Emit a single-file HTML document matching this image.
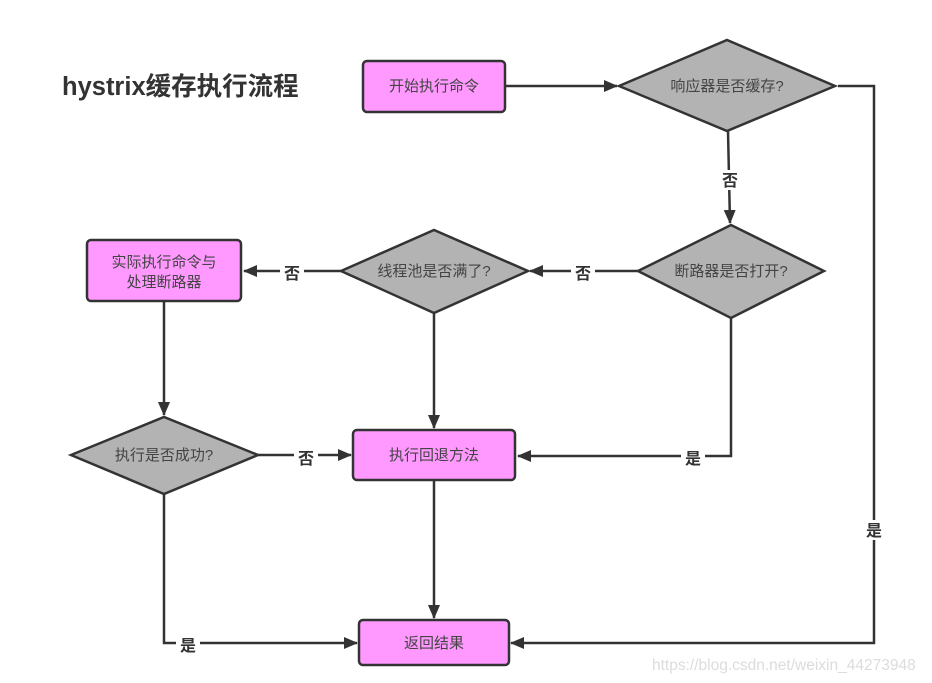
<!DOCTYPE html>
<html><head><meta charset="utf-8"><style>
html,body{margin:0;padding:0;background:#fff;}
svg{display:block;}
text{font-family:"Liberation Sans","Noto Sans CJK SC",sans-serif;}
</style></head><body>
<svg width="932" height="683" viewBox="0 0 932 683" xmlns="http://www.w3.org/2000/svg">
<defs>
<marker id="b" markerWidth="14" markerHeight="12" refX="13" refY="6" orient="auto" markerUnits="userSpaceOnUse">
<path d="M0,0 L14,6 L0,12 Z" fill="#333"/>
</marker>
</defs>
<text x="62" y="95" font-size="25.5" font-weight="bold" fill="#333">hystrix缓存执行流程</text>

<g stroke="#333" stroke-width="2.5" fill="none">
<line x1="505" y1="86" x2="617" y2="86" marker-end="url(#b)"/>
<line x1="728" y1="131" x2="730" y2="223" marker-end="url(#b)"/>
<polyline points="838,86 874,86 874,643 511,643" marker-end="url(#b)"/>
<line x1="638" y1="271" x2="530" y2="271" marker-end="url(#b)"/>
<line x1="341" y1="271" x2="244" y2="271" marker-end="url(#b)"/>
<line x1="164" y1="301" x2="164" y2="415" marker-end="url(#b)"/>
<line x1="258" y1="455" x2="351" y2="455" marker-end="url(#b)"/>
<line x1="434" y1="313" x2="434" y2="428" marker-end="url(#b)"/>
<polyline points="731,318 731,456 518,456" marker-end="url(#b)"/>
<line x1="434" y1="480" x2="434" y2="618" marker-end="url(#b)"/>
<polyline points="164,494 164,643 357,643" marker-end="url(#b)"/>
</g>

<g stroke="#333" stroke-width="2.5">
<rect x="363" y="61" width="142" height="51" rx="4" fill="#ff99ff"/>
<polygon points="619,86 727,40 835,86 727,131" fill="#b3b3b3"/>
<polygon points="638,271 731,225 824,271 731,318" fill="#b3b3b3"/>
<polygon points="341,271 434,230 528,271 434,313" fill="#b3b3b3"/>
<rect x="87" y="240" width="154" height="61" rx="4" fill="#ff99ff"/>
<polygon points="71,455 164,417 258,455 164,494" fill="#b3b3b3"/>
<rect x="353" y="430" width="162" height="50" rx="4" fill="#ff99ff"/>
<rect x="359" y="620" width="150" height="45" rx="4" fill="#ff99ff"/>
</g>

<g font-size="15" fill="#444" text-anchor="middle">
<text x="434" y="91">开始执行命令</text>
<text x="727" y="91">响应器是否缓存?</text>
<text x="731" y="276">断路器是否打开?</text>
<text x="434" y="276">线程池是否满了?</text>
<text x="164" y="267">实际执行命令与</text>
<text x="164" y="287">处理断路器</text>
<text x="164" y="460">执行是否成功?</text>
<text x="434" y="460">执行回退方法</text>
<text x="434" y="648">返回结果</text>
</g>

<g font-size="16" font-weight="bold" fill="#333" text-anchor="middle">
<rect x="718" y="170" width="24" height="20" fill="#fff"/>
<text x="730" y="186">否</text>
<rect x="571" y="263" width="24" height="20" fill="#fff"/>
<text x="583" y="279">否</text>
<rect x="280" y="263" width="24" height="20" fill="#fff"/>
<text x="292" y="279">否</text>
<rect x="294" y="447" width="24" height="20" fill="#fff"/>
<text x="306" y="464">否</text>
<rect x="681" y="448" width="24" height="20" fill="#fff"/>
<text x="693" y="464">是</text>
<rect x="862" y="520" width="24" height="20" fill="#fff"/>
<text x="874" y="536">是</text>
<rect x="176" y="635" width="24" height="20" fill="#fff"/>
<text x="188" y="651">是</text>
</g>

<text x="652" y="670" font-size="15.5" fill="#dcdcdc">https://blog.csdn.net/weixin_44273948</text>
</svg>
</body></html>
